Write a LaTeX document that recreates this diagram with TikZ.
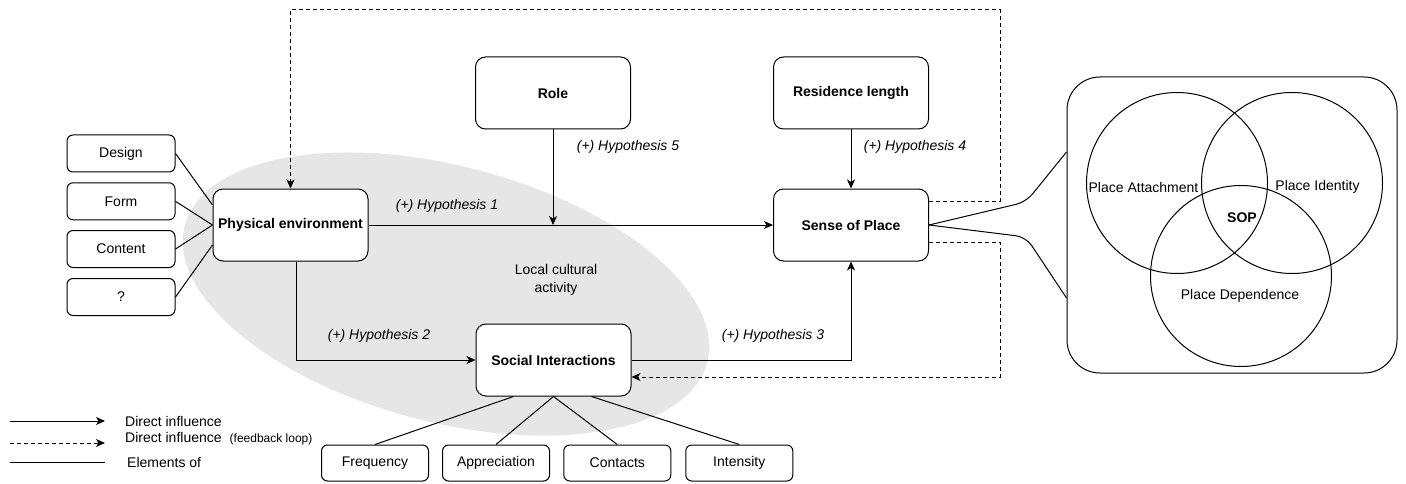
\documentclass[tikz,border=0pt]{standalone}
\usepackage{fontspec}
\setmainfont{Liberation Sans}
\usetikzlibrary{arrows.meta,calc,shapes.geometric}
\definecolor{lcafill}{HTML}{E6E6E6}
\begin{document}
\begin{tikzpicture}[x=1pt,y=-1pt,
  every node/.style={font=\fontsize{14}{16}\selectfont},
  box/.style={draw, rounded corners=10pt, fill=white, minimum width=155pt, minimum height=72pt, inner sep=2pt, font=\fontsize{14}{16}\selectfont\bfseries, line width=1pt},
  sbox/.style={draw, rounded corners=6pt, fill=white, minimum width=108pt, minimum height=37pt, inner sep=2pt, line width=1pt},
  conn/.style={line width=1pt},
  arr/.style={conn, -{Stealth[length=9pt,width=8pt,inset=2.5pt]}},
  darr/.style={arr, dash pattern=on 4pt off 3pt},
  hyp/.style={font=\fontsize{14}{16}\selectfont\itshape},
  vcirc/.style={circle, draw, minimum size=181pt, inner sep=0pt, line width=1pt}
]
\useasboundingbox (0,0) rectangle (1406,484);

% background ellipse
\node[ellipse, fill=lcafill, minimum width=540pt, minimum height=256pt, inner sep=0pt, rotate=-14.7] (lca) at (446,294) {};
\node[align=center, font=\fontsize{14}{17.6}\selectfont] (lcat) at (556,280) {Local cultural\\activity};

% main boxes
\node[box] (pe) at (290.5,225) {Physical environment};
\node[box] (sop) at (851,225) {Sense of Place};
\node[box] (si) at (553.5,360) {Social Interactions};
\node[box] (role) at (553,93) {Role};
\node[box] (res) at (851,93) {Residence length};

% left element boxes
\node[sbox] (design) at (121,153.5) {Design};
\node[sbox] (form) at (121,201.3) {Form};
\node[sbox] (content) at (121,249) {Content};
\node[sbox] (q) at (121,297) {?};

% bottom element boxes
\node[sbox, minimum width=107pt, minimum height=36pt] (freq) at (375,463) {Frequency};
\node[sbox, minimum width=107pt, minimum height=36pt] (appr) at (496,463) {Appreciation};
\node[sbox, minimum width=107pt, minimum height=36pt] (cont) at (617.3,463) {Contacts};
\node[sbox, minimum width=107pt, minimum height=36pt] (inten) at (739.3,463) {Intensity};

% Venn box
\node[draw, rounded corners=33pt, minimum width=330pt, minimum height=296pt, line width=1pt] (venn) at (1232,225) {};
\node[vcirc] (ca) at (1177,183) {};
\node[vcirc] (ci) at (1292,183) {};
\node[vcirc] (cd) at (1241,276) {};
\node (tpa) at (1143.5,187) {Place Attachment};
\node (tpi) at (1317.5,187) {Place Identity};
\node[font=\fontsize{14}{16}\selectfont\bfseries] (tsop) at (1242,218) {SOP};
\node (tpd) at (1240,296) {Place Dependence};

% element lines left
\draw[conn] (design.east) -- ([yshift=20pt]pe.west);
\draw[conn] (form.east) -- (pe.west);
\draw[conn] (content.east) -- (pe.west);
\draw[conn] (q.east) -- ([yshift=-20pt]pe.west);

% element lines bottom
\draw[conn] ([xshift=-40pt]si.south) -- (freq.north);
\draw[conn] (si.south) -- (appr.north);
\draw[conn] (si.south) -- (cont.north);
\draw[conn] ([xshift=38pt]si.south) -- (inten.north);

% SoP to Venn
\coordinate (vb1) at (1026,202);
\coordinate (vb2) at (1026,237);
\draw[conn, rounded corners=10pt] (sop.east) -- (vb1) -- ([yshift=73pt]venn.west);
\draw[conn, rounded corners=10pt] (sop.east) -- (vb2) -- ([yshift=-73pt]venn.west);

% direct influences
\draw[arr] (pe.east) -- (sop.west);
\draw[arr] (role.south) -- (role.south |- pe.east);
\draw[arr] (res.south) -- (sop.north);
\draw[arr] ([xshift=5.5pt]pe.south) |- (si.west);
\draw[arr] (si.east) -| (sop.south);

% feedback loops
\coordinate (topr) at (1000,10);
\draw[darr] ([yshift=24pt]sop.east) -| (topr) -| (pe.north);
\draw[darr] ([yshift=-17pt]sop.east) -- ++(71,0) |- ([yshift=-17pt]si.east);

% hypothesis labels
\node[hyp] (h1) at (447,206) {(+) Hypothesis 1};
\node[hyp] (h2) at (379,336) {(+) Hypothesis 2};
\node[hyp] (h3) at (773,336) {(+) Hypothesis 3};
\node[hyp] (h4) at (915,147) {(+) Hypothesis 4};
\node[hyp] (h5) at (628,147) {(+) Hypothesis 5};

% legend
\coordinate (l1a) at (10,421); \coordinate (l1b) at (105,421);
\coordinate (l2a) at (10,443); \coordinate (l2b) at (105,443);
\coordinate (l3a) at (10,462); \coordinate (l3b) at (105,462);
\draw[arr] (l1a) -- (l1b);
\draw[darr] (l2a) -- (l2b);
\draw[conn] (l3a) -- (l3b);
\node[anchor=west, inner sep=0pt] (lt1) at (125,421) {Direct influence};
\node[anchor=west, inner sep=0pt] (lt2) at (125,439) {Direct influence\hspace{8pt}{\fontsize{12}{14}\selectfont(feedback loop)}};
\node[anchor=west, inner sep=0pt] (lt3) at (127,462) {Elements of};
\end{tikzpicture}
\end{document}
